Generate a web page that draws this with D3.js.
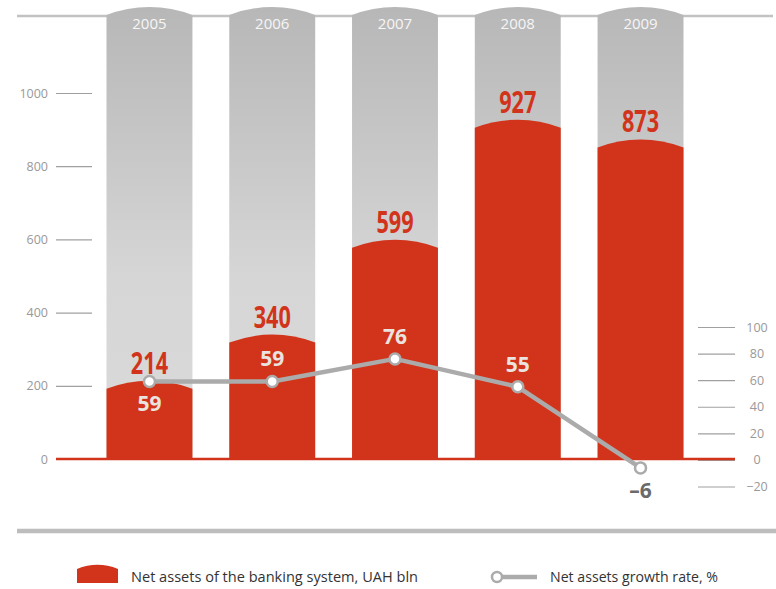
<!DOCTYPE html>
<html>
<head>
<meta charset="utf-8">
<script src="https://cdn.jsdelivr.net/npm/d3@7"></script>
<style>
  html, body { margin: 0; padding: 0; background: #fff; }
  svg { display: block; }
  text { font-family: "Open Sans", "Noto Sans", sans-serif; }
</style>
</head>
<body>
<svg id="chart" width="776" height="589"></svg>
<script>
// Net assets of the Ukrainian banking system, 2005-2009
const years = ["2005", "2006", "2007", "2008", "2009"];
const netAssets = [214, 340, 599, 927, 873];      // UAH bln
const growthRate = [59, 59, 76, 55, -6];          // %
const leftTicks = [0, 200, 400, 600, 800, 1000];
const rightTicks = [-20, 0, 20, 40, 60, 80, 100];
const legendLabels = ["Net assets of the banking system, UAH bln", "Net assets growth rate, %"];

const RED = "#d1341a";
const GREY_LINE = "#ababab";

const svg = d3.select("#chart");
const defs = svg.append("defs");
const grad = defs.append("linearGradient")
  .attr("id", "colGrad").attr("x1", 0).attr("y1", 0).attr("x2", 0).attr("y2", 1);
grad.append("stop").attr("offset", "0%").attr("stop-color", "#b7b7b7");
grad.append("stop").attr("offset", "60%").attr("stop-color", "#d6d6d6");
grad.append("stop").attr("offset", "100%").attr("stop-color", "#dadada");

const x = d3.scaleBand().domain(years).range([106.5, 683.5]).paddingInner(0.3).paddingOuter(0);
const yL = d3.scaleLinear().domain([0, 1000]).range([459, 93]);
const yR = d3.scaleLinear().domain([-20, 100]).range([486.5, 327]);

const bw = x.bandwidth();
const sag = 8; // height of the arched tops
const arcR = ((bw / 2) ** 2 + sag ** 2) / (2 * sag);

// column with an arched top: peak at yPeak, flat bottom at yBottom
function archPath(x0, w, yPeak, yBottom, s, r) {
  const yEdge = yPeak + s;
  return `M${x0},${yBottom}L${x0},${yEdge}A${r},${r} 0 0 1 ${x0 + w},${yEdge}L${x0 + w},${yBottom}Z`;
}

// top rule
svg.append("line")
  .attr("x1", 17).attr("x2", 773).attr("y1", 16).attr("y2", 16)
  .attr("stroke", "#c2c2c2").attr("stroke-width", 2.5);

// background columns
svg.append("g").selectAll("path").data(years).join("path")
  .attr("d", d => archPath(x(d), bw, 7, yL(0), sag, arcR))
  .attr("fill", "url(#colGrad)");

// year labels
svg.append("g").selectAll("text").data(years).join("text")
  .attr("x", d => x(d) + bw / 2).attr("y", 29)
  .attr("text-anchor", "middle")
  .attr("font-size", 15).attr("font-weight", 400)
  .attr("fill", "#f6f6f6")
  .text(d => d);

// left axis
const axL = svg.append("g").attr("transform", "translate(92,0)")
  .call(d3.axisLeft(yL).tickValues(leftTicks).tickSize(36).tickPadding(8).tickSizeOuter(0)
    .tickFormat(d3.format("d")));
axL.select(".domain").remove();
axL.selectAll(".tick line").attr("stroke", "#a0a0a0").attr("stroke-width", 1.2);
axL.selectAll(".tick text").attr("fill", "#999").attr("font-size", 12.5)
  .attr("font-family", "'Open Sans', sans-serif");

// right axis
const axR = svg.append("g").attr("transform", "translate(698,0)")
  .call(d3.axisRight(yR).tickValues(rightTicks).tickSize(37).tickSizeOuter(0)
    .tickFormat(d => d < 0 ? "\u2212" + Math.abs(d) : d));
axR.select(".domain").remove();
axR.selectAll(".tick line").attr("stroke", "#a0a0a0").attr("stroke-width", 1.2);
axR.selectAll(".tick text").attr("fill", "#999").attr("font-size", 12.5)
  .attr("font-family", "'Open Sans', sans-serif")
  .attr("text-anchor", "middle").attr("x", 59);

// red baseline
svg.append("line")
  .attr("x1", 56).attr("x2", 735).attr("y1", yL(0)).attr("y2", yL(0))
  .attr("stroke", RED).attr("stroke-width", 2.5);

// net assets columns
svg.append("g").selectAll("path").data(netAssets).join("path")
  .attr("d", (v, i) => archPath(x(years[i]), bw, yL(v), yL(0), sag, arcR))
  .attr("fill", RED);

// net assets value labels (condensed)
svg.append("g").selectAll("text").data(netAssets).join("text")
  .attr("transform", (v, i) => `translate(${x(years[i]) + bw / 2},${yL(v) - 7}) scale(0.7,1)`)
  .attr("text-anchor", "middle")
  .attr("font-family", "Roboto, sans-serif")
  .attr("font-weight", 700).attr("font-size", 31)
  .attr("fill", RED)
  .text(v => v);

// growth rate line
const cx = i => x(years[i]) + bw / 2;
const line = d3.line().x((v, i) => cx(i)).y(v => yR(v));
svg.append("path").datum(growthRate)
  .attr("d", line).attr("fill", "none")
  .attr("stroke", GREY_LINE).attr("stroke-width", 4.5).attr("stroke-linejoin", "round");

svg.append("g").selectAll("circle").data(growthRate).join("circle")
  .attr("cx", (v, i) => cx(i)).attr("cy", v => yR(v)).attr("r", 5.5)
  .attr("fill", "#fff").attr("stroke", GREY_LINE).attr("stroke-width", 2.5);

// growth rate labels: below for the first point and negative values, above otherwise
svg.append("g").selectAll("text").data(growthRate).join("text")
  .attr("x", (v, i) => cx(i))
  .attr("y", (v, i) => (i === 0 || v < 0) ? yR(v) + 30 : yR(v) - 15)
  .attr("text-anchor", "middle")
  .attr("font-family", "Roboto, sans-serif")
  .attr("font-weight", 700).attr("font-size", 21)
  .attr("fill", v => v < 0 ? "#6a6a6a" : "#ebe3df")
  .text(v => v < 0 ? "\u2013" + Math.abs(v) : v);

// bottom rule
svg.append("line")
  .attr("x1", 17).attr("x2", 776).attr("y1", 531).attr("y2", 531)
  .attr("stroke", "#bdbdbd").attr("stroke-width", 4.5);

// legend
const lg = svg.append("g");
lg.append("path")
  .attr("d", archPath(77, 41, 565, 583, 4, ((41 / 2) ** 2 + 16) / 8))
  .attr("fill", RED);
lg.append("text").attr("x", 131).attr("y", 582)
  .attr("font-size", 15).attr("font-weight", 400).attr("fill", "#333")
  .attr("textLength", 287).attr("lengthAdjust", "spacingAndGlyphs")
  .text(legendLabels[0]);
lg.append("line").attr("x1", 497).attr("x2", 537).attr("y1", 577).attr("y2", 577)
  .attr("stroke", GREY_LINE).attr("stroke-width", 4.5);
lg.append("circle").attr("cx", 497).attr("cy", 577).attr("r", 5)
  .attr("fill", "#fff").attr("stroke", GREY_LINE).attr("stroke-width", 2.5);
lg.append("text").attr("x", 550).attr("y", 582)
  .attr("font-size", 15).attr("font-weight", 400).attr("fill", "#333")
  .attr("textLength", 168).attr("lengthAdjust", "spacingAndGlyphs")
  .text(legendLabels[1]);
</script>
</body>
</html>
